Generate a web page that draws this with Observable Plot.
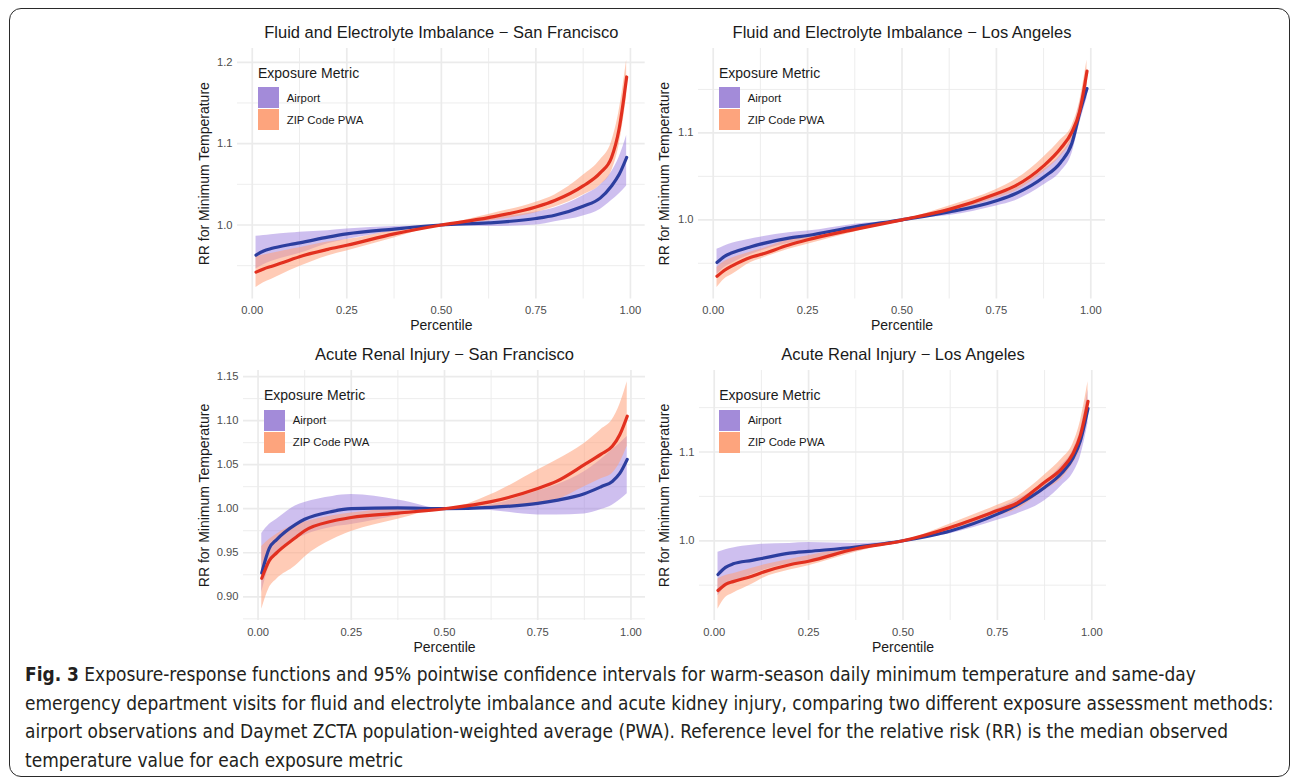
<!DOCTYPE html>
<html>
<head>
<meta charset="utf-8">
<script src="https://cdn.jsdelivr.net/npm/d3@7"></script>
<script src="https://cdn.jsdelivr.net/npm/@observablehq/plot@0.6"></script>
<style>
  html, body { margin: 0; padding: 0; background: #fff; }
  body { width: 1290px; height: 778px; position: relative; overflow: hidden; font-family: "Liberation Sans", Arial, sans-serif; }
  #border { position: absolute; left: 9px; top: 8px; width: 1281px; height: 769px; box-sizing: border-box; border: 1.6px solid #2a2a2a; border-radius: 12px; }
  .panel { position: absolute; }
  .legend { position: absolute; color: #1a1a1a; }
  .legend .ttl { font-size: 14px; line-height: 17px; white-space: nowrap; }
  .legend .rows { margin-top: 5.7px; }
  .legend .row { display: flex; align-items: center; margin-bottom: 1.3px; }
  .legend .sw { width: 21px; height: 21px; }
  .legend .lab { font-size: 11.4px; margin-left: 7.7px; white-space: nowrap; }
  #caption { position: absolute; left: 25px; top: 660px; color: #231f20; line-height: 28.5px; font-family: "Liberation Sans Narrow", "DejaVu Sans Condensed", "Liberation Sans", sans-serif; }
  #caption div { white-space: nowrap; }
</style>
</head>
<body>
<div id="border"></div>
<div id="caption"></div>
<script>
// ---------------- data ----------------
const percentiles = [0.01, 0.03, 0.05, 0.1, 0.125, 0.2, 0.25, 0.375, 0.5, 0.625, 0.75, 0.8, 0.875, 0.92, 0.95, 0.97, 0.99];

const panelTitles = [
  "Fluid and Electrolyte Imbalance − San Francisco",
  "Fluid and Electrolyte Imbalance − Los Angeles",
  "Acute Renal Injury − San Francisco",
  "Acute Renal Injury − Los Angeles"
];
const metrics = ["Airport", "ZIP Code PWA"];
const legendTitle = "Exposure Metric";
const xLabel = "Percentile";
const yLabel = "RR for Minimum Temperature";

// Fluid and Electrolyte Imbalance – San Francisco
const feiSfAirportRR = [0.963, 0.968, 0.971, 0.976, 0.978, 0.985, 0.989, 0.995, 1.0, 1.0025, 1.008, 1.012, 1.023, 1.033, 1.048, 1.062, 1.083];
const feiSfAirportLo = [0.946, 0.951, 0.955, 0.962, 0.965, 0.977, 0.982, 0.992, 1.0, 0.998, 1.000, 1.004, 1.011, 1.019, 1.030, 1.038, 1.048];
const feiSfAirportHi = [0.986, 0.987, 0.988, 0.990, 0.991, 0.993, 0.995, 0.998, 1.0, 1.008, 1.016, 1.021, 1.036, 1.049, 1.065, 1.083, 1.110];
const feiSfZipRR = [0.942, 0.946, 0.949, 0.957, 0.961, 0.970, 0.975, 0.989, 1.0, 1.009, 1.022, 1.030, 1.048, 1.064, 1.083, 1.118, 1.182];
const feiSfZipLo = [0.923, 0.929, 0.933, 0.944, 0.949, 0.962, 0.968, 0.984, 1.0, 1.005, 1.015, 1.022, 1.037, 1.049, 1.066, 1.098, 1.158];
const feiSfZipHi = [0.961, 0.963, 0.965, 0.970, 0.972, 0.979, 0.982, 0.993, 1.0, 1.013, 1.028, 1.037, 1.061, 1.080, 1.102, 1.140, 1.203];

// Fluid and Electrolyte Imbalance – Los Angeles
const feiLaAirportRR = [0.951, 0.958, 0.962, 0.969, 0.972, 0.979, 0.982, 0.992, 1.0, 1.009, 1.022, 1.030, 1.049, 1.066, 1.088, 1.122, 1.151];
const feiLaAirportLo = [0.937, 0.945, 0.950, 0.960, 0.964, 0.973, 0.977, 0.989, 1.0, 1.005, 1.016, 1.022, 1.040, 1.055, 1.076, 1.110, 1.140];
const feiLaAirportHi = [0.966, 0.970, 0.973, 0.978, 0.980, 0.985, 0.987, 0.995, 1.0, 1.013, 1.028, 1.036, 1.058, 1.075, 1.097, 1.132, 1.160];
const feiLaZipRR = [0.935, 0.942, 0.947, 0.957, 0.960, 0.971, 0.977, 0.989, 1.0, 1.012, 1.030, 1.039, 1.062, 1.082, 1.101, 1.124, 1.171];
const feiLaZipLo = [0.922, 0.932, 0.937, 0.951, 0.955, 0.966, 0.972, 0.986, 1.0, 1.009, 1.025, 1.033, 1.055, 1.073, 1.091, 1.112, 1.155];
const feiLaZipHi = [0.945, 0.952, 0.956, 0.963, 0.966, 0.977, 0.981, 0.992, 1.0, 1.016, 1.035, 1.046, 1.072, 1.092, 1.108, 1.135, 1.184];

// Acute Renal Injury – San Francisco
const ariSfAirportRR = [0.927, 0.955, 0.965, 0.982, 0.988, 0.997, 1.000, 1.001, 1.0, 1.0015, 1.006, 1.0095, 1.017, 1.025, 1.031, 1.040, 1.056];
const ariSfAirportLo = [0.905, 0.935, 0.950, 0.965, 0.970, 0.979, 0.982, 0.992, 1.0, 0.998, 0.993, 0.993, 0.994, 0.999, 1.004, 1.010, 1.017];
const ariSfAirportHi = [0.972, 0.982, 0.988, 1.003, 1.007, 1.014, 1.016, 1.010, 1.0, 1.0045, 1.020, 1.027, 1.042, 1.056, 1.067, 1.074, 1.082];
const ariSfZipRR = [0.921, 0.941, 0.950, 0.967, 0.975, 0.986, 0.990, 0.995, 1.0, 1.008, 1.023, 1.031, 1.050, 1.062, 1.071, 1.084, 1.105];
const ariSfZipLo = [0.886, 0.910, 0.920, 0.935, 0.945, 0.965, 0.974, 0.988, 1.0, 1.001, 1.006, 1.010, 1.025, 1.034, 1.040, 1.052, 1.071];
const ariSfZipHi = [0.957, 0.965, 0.971, 0.982, 0.985, 0.992, 0.995, 1.000, 1.0, 1.016, 1.044, 1.055, 1.074, 1.090, 1.101, 1.118, 1.144];

// Acute Renal Injury – Los Angeles
const ariLaAirportRR = [0.962, 0.970, 0.974, 0.978, 0.980, 0.986, 0.988, 0.993, 1.0, 1.011, 1.030, 1.040, 1.060, 1.076, 1.093, 1.113, 1.149];
const ariLaAirportLo = [0.938, 0.948, 0.953, 0.962, 0.966, 0.974, 0.977, 0.988, 1.0, 1.008, 1.023, 1.030, 1.045, 1.062, 1.076, 1.095, 1.132];
const ariLaAirportHi = [0.987, 0.990, 0.992, 0.995, 0.996, 0.997, 0.998, 0.997, 1.0, 1.015, 1.036, 1.046, 1.066, 1.085, 1.102, 1.125, 1.170];
const ariLaZipRR = [0.944, 0.951, 0.954, 0.960, 0.964, 0.973, 0.977, 0.991, 1.0, 1.015, 1.034, 1.042, 1.066, 1.081, 1.098, 1.119, 1.157];
const ariLaZipLo = [0.923, 0.936, 0.941, 0.951, 0.957, 0.967, 0.972, 0.987, 1.0, 1.011, 1.028, 1.035, 1.057, 1.070, 1.087, 1.104, 1.140];
const ariLaZipHi = [0.957, 0.961, 0.963, 0.969, 0.972, 0.979, 0.983, 0.994, 1.0, 1.019, 1.040, 1.049, 1.074, 1.092, 1.109, 1.135, 1.179];

// tick labels
const xTicks = [0, 0.25, 0.5, 0.75, 1];
const xMinorTicks = [0.125, 0.375, 0.625, 0.875];
const feiSfYTicks = [1.0, 1.1, 1.2];
const feiSfYMinor = [0.95, 1.05, 1.15];
const feiLaYTicks = [1.0, 1.1];
const feiLaYMinor = [0.95, 1.05, 1.15];
const ariSfYTicks = [0.90, 0.95, 1.00, 1.05, 1.10, 1.15];
const ariSfYMinor = [0.875, 0.925, 0.975, 1.025, 1.075, 1.125];
const ariLaYTicks = [1.0, 1.1];
const ariLaYMinor = [0.95, 1.05, 1.15];

const captionLines = [
  ["Fig. 3", " Exposure-response functions and 95% pointwise confidence intervals for warm-season daily minimum temperature and same-day"],
  ["", "emergency department visits for fluid and electrolyte imbalance and acute kidney injury, comparing two different exposure assessment methods:"],
  ["", "airport observations and Daymet ZCTA population-weighted average (PWA). Reference level for the relative risk (RR) is the median observed"],
  ["", "temperature value for each exposure metric"]
];

// ---------------- styling / layout ----------------
const airportFill = "#9370db", zipFill = "#ffa07a";
const airportLine = "#2c3e9f", zipLine = "#e2301f";
const legendSwatch = ["#a38bd9", "#fda47d"];
const M = {left: 60, right: 12, top: 32, bottom: 42};

const panels = [
  {frame: {x: 237.3, y: 47.5, w: 407.7, h: 250.5}, title: panelTitles[0], yTicks: feiSfYTicks, yMinor: feiSfYMinor, fmt: ".1f", ylabDx: -33,
   air: [feiSfAirportRR, feiSfAirportLo, feiSfAirportHi], zip: [feiSfZipRR, feiSfZipLo, feiSfZipHi]},
  {frame: {x: 698.3, y: 47.5, w: 407.0, h: 250.5}, title: panelTitles[1], yTicks: feiLaYTicks, yMinor: feiLaYMinor, fmt: ".1f", ylabDx: -34,
   air: [feiLaAirportRR, feiLaAirportLo, feiLaAirportHi], zip: [feiLaZipRR, feiLaZipLo, feiLaZipHi]},
  {frame: {x: 243.3, y: 370, w: 402.0, h: 250}, title: panelTitles[2], yTicks: ariSfYTicks, yMinor: ariSfYMinor, fmt: ".2f", ylabDx: -39,
   air: [ariSfAirportRR, ariSfAirportLo, ariSfAirportHi], zip: [ariSfZipRR, ariSfZipLo, ariSfZipHi]},
  {frame: {x: 698.6, y: 370, w: 407.0, h: 250}, title: panelTitles[3], yTicks: ariLaYTicks, yMinor: ariLaYMinor, fmt: ".1f", ylabDx: -34.5,
   air: [ariLaAirportRR, ariLaAirportLo, ariLaAirportHi], zip: [ariLaZipRR, ariLaZipLo, ariLaZipHi]}
];

function rows(series) {
  const [rr, lo, hi] = series;
  return percentiles.map((p, i) => ({p, rr: rr[i], lo: lo[i], hi: hi[i]}));
}
function expand([a, b], k = 0.05) { const r = b - a; return [a - k * r, b + k * r]; }

const gridColor = "#ebebeb";
const font = "'Liberation Sans', Arial, sans-serif";

for (const pn of panels) {
  const air = rows(pn.air), zip = rows(pn.zip);
  const allY = [...pn.air[1], ...pn.air[2], ...pn.zip[1], ...pn.zip[2]];
  const yDomain = expand(d3.extent(allY));
  const xDomain = expand(d3.extent(percentiles));
  const f = pn.frame;
  const chart = Plot.plot({
    width: f.w + M.left + M.right,
    height: f.h + M.top + M.bottom,
    marginLeft: M.left, marginRight: M.right, marginTop: M.top, marginBottom: M.bottom,
    x: {domain: xDomain},
    y: {domain: yDomain},
    style: {fontFamily: font, background: "transparent", overflow: "visible"},
    marks: [
      Plot.gridX(xMinorTicks, {stroke: gridColor, strokeOpacity: 1, strokeWidth: 0.9}),
      Plot.gridY(pn.yMinor, {stroke: gridColor, strokeOpacity: 1, strokeWidth: 0.9}),
      Plot.gridX(xTicks, {stroke: gridColor, strokeOpacity: 1, strokeWidth: 1.7}),
      Plot.gridY(pn.yTicks, {stroke: gridColor, strokeOpacity: 1, strokeWidth: 1.7}),
      Plot.axisX(xTicks, {tickSize: 0, tickPadding: 7.5, tickFormat: d3.format(".2f"), label: null, fontSize: 11.2, fill: "#4d4d4d"}),
      Plot.axisY(pn.yTicks, {tickSize: 0, tickPadding: 5, tickFormat: d3.format(pn.fmt), label: null, fontSize: 11.2, fill: "#4d4d4d"}),
      Plot.areaY(air, {x: "p", y1: "lo", y2: "hi", fill: airportFill, fillOpacity: 0.45, curve: "monotone-x"}),
      Plot.areaY(zip, {x: "p", y1: "lo", y2: "hi", fill: zipFill, fillOpacity: 0.55, curve: "monotone-x"}),
      Plot.lineY(air, {x: "p", y: "rr", stroke: airportLine, strokeWidth: 3.2, curve: "monotone-x"}),
      Plot.lineY(zip, {x: "p", y: "rr", stroke: zipLine, strokeWidth: 3.2, curve: "monotone-x"}),
      Plot.text([pn.title], {text: d => d, frameAnchor: "top", dy: -16, lineAnchor: "middle", textAnchor: "middle", fontSize: 16.5, fill: "#1a1a1a"}),
      Plot.text([xLabel], {text: d => d, frameAnchor: "bottom", dy: 27, lineAnchor: "middle", textAnchor: "middle", fontSize: 14, fill: "#1a1a1a"}),
      Plot.text([yLabel], {text: d => d, frameAnchor: "left", dx: pn.ylabDx, rotate: -90, lineAnchor: "middle", textAnchor: "middle", fontSize: 14, fill: "#1a1a1a"})
    ]
  });
  const wrap = document.createElement("div");
  wrap.className = "panel";
  wrap.style.left = (f.x - M.left) + "px";
  wrap.style.top = (f.y - M.top) + "px";
  wrap.appendChild(chart);
  // legend inside the panel (top-left)
  const lg = document.createElement("div");
  lg.className = "legend";
  lg.style.left = (M.left + 20.7) + "px";
  lg.style.top = (M.top + 17) + "px";
  const t = document.createElement("div");
  t.className = "ttl"; t.textContent = legendTitle;
  lg.appendChild(t);
  const rs = document.createElement("div"); rs.className = "rows";
  metrics.forEach((m, i) => {
    const r = document.createElement("div"); r.className = "row";
    const s = document.createElement("div"); s.className = "sw"; s.style.background = legendSwatch[i];
    const l = document.createElement("div"); l.className = "lab"; l.textContent = m;
    r.appendChild(s); r.appendChild(l); rs.appendChild(r);
  });
  lg.appendChild(rs);
  wrap.appendChild(lg);
  document.body.appendChild(wrap);
}

// caption
const cap = document.getElementById("caption");
const capFont = getComputedStyle(cap).fontFamily;
const ctx = document.createElement("canvas").getContext("2d");
ctx.font = "20px " + capFont;
const w2 = ctx.measureText(captionLines[1][1]).width;
const capSize = 20 * 1250 / w2;
cap.style.fontSize = capSize.toFixed(2) + "px";
for (const [bold, rest] of captionLines) {
  const d = document.createElement("div");
  if (bold) { const b = document.createElement("b"); b.textContent = bold; d.appendChild(b); }
  d.appendChild(document.createTextNode(rest));
  cap.appendChild(d);
}
</script>
</body>
</html>
